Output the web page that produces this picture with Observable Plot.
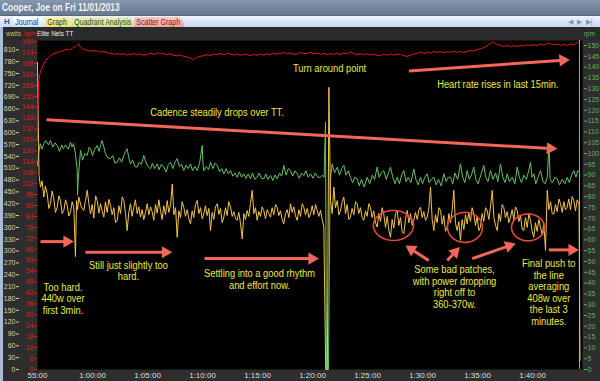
<!DOCTYPE html>
<html><head><meta charset="utf-8">
<script src="https://cdn.jsdelivr.net/npm/d3@7"></script>
<script src="https://cdn.jsdelivr.net/npm/@observablehq/plot@0.6"></script>
<style>
html,body{margin:0;padding:0;background:#2d2d2d;}
#wrap{position:relative;width:600px;height:381px;overflow:hidden;background:#2e2e2e;font-family:"Liberation Sans",Arial,sans-serif;}
#titlebar{position:absolute;left:0;top:0;width:600px;height:15px;background:linear-gradient(#8798ac,#66798f);border-bottom:1px solid #56677a;}
#titlebar span{position:absolute;left:2px;top:1px;font:bold 10.5px "Liberation Sans",Arial;color:#f2f2f2;transform:scaleX(0.8);transform-origin:left;white-space:nowrap;}
#tabbar{position:absolute;left:0;top:16px;width:600px;height:11px;background:linear-gradient(#eef4fd,#c7daf2);}
.tab{position:absolute;top:1px;height:10px;border-radius:2px 7px 0 0;font:9px "Liberation Sans",Arial;line-height:10px;white-space:nowrap;overflow:hidden;}
.tab span{display:inline-block;transform:scaleX(0.78);transform-origin:left;padding-left:3px;}
#hdr{position:absolute;left:0;top:27px;width:600px;height:13px;background:#2b2b2b;}
.lbl{position:absolute;font:8px "Liberation Sans",Arial;white-space:nowrap;line-height:10px;}
.hl{position:absolute;font:7.5px "Liberation Sans",Arial;white-space:nowrap;line-height:10px;transform:scaleX(0.85);transform-origin:left;}
#strip{position:absolute;left:0;top:27px;width:3px;height:354px;background:#a9bcd3;}
</style></head>
<body>
<div id="wrap">
  <div id="titlebar"><span>Cooper, Joe on Fri 11/01/2013</span></div>
  <div id="tabbar">
    <div class="lbl" style="left:4px;top:1px;color:#2a55a5;font-weight:bold;">H</div>
    <div class="tab" style="left:13px;width:32px;background:linear-gradient(#ffffff,#cfe0f6);color:#1d3a78;"><span>Journal</span></div>
    <div class="tab" style="left:45px;width:27px;background:linear-gradient(#fbf3a0,#efe06a);color:#333;"><span>Graph</span></div>
    <div class="tab" style="left:72px;width:62px;background:linear-gradient(#e4f2c6,#c9e29c);color:#2d4a12;"><span>Quadrant Analysis</span></div>
    <div class="tab" style="left:134px;width:50px;background:linear-gradient(#f9c8c8,#f0a4a4);color:#7a1c1c;"><span>Scatter Graph</span></div>
    <div class="lbl" style="left:568px;top:1px;color:#7f96b8;font-size:7px;">◀&nbsp;&nbsp;▶&nbsp;&nbsp;▶|</div>
  </div>
  <div id="hdr">
    <div class="hl" style="left:6px;top:2px;color:#d9b95a;">watts</div>
    <div class="hl" style="left:24px;top:2px;color:#d42020;">bpm</div>
    <div class="hl" style="left:37px;top:2px;color:#eeeeee;">Elite Nels TT</div>
    <div class="hl" style="left:584px;top:2px;color:#5fae5f;">rpm</div>
  </div>
  <div id="strip"></div>
  <div id="plots"></div>
</div>
<script>
// ---------- data ----------
const tickMinutes = [55, 60, 65, 70, 75, 80, 85, 90, 95, 100];
const tickLabels = ["55:00","1:00:00","1:05:00","1:10:00","1:15:00","1:20:00","1:25:00","1:30:00","1:35:00","1:40:00"];
const wattTicks = d3.range(0, 811, 30);
const bpmTicks = d3.range(0, 181, 6);
const rpmTicks = d3.range(0, 151, 5);

// power: [minute, watts]
const powerSeries = [
[55.00,778],[55.14,492],[55.27,462],[55.42,478],[55.57,437],[55.72,465],[55.88,445],[56.03,408],[56.18,421],[56.33,452],[56.48,433],[56.63,398],[56.79,411],[56.94,440],[57.09,428],[57.24,395],[57.39,403],[57.55,430],[57.70,416],[57.85,389],[58.00,399],[58.15,425],[58.30,411],[58.45,286],[58.55,428],[58.65,405],[58.75,437],[58.98,412],[59.21,403],[59.36,428],[59.52,454],[59.67,420],[59.82,394],[59.97,418],[60.12,384],[60.28,440],[60.43,428],[60.58,396],[60.73,420],[60.88,401],[61.03,386],[61.18,425],[61.33,398],[61.49,431],[61.64,416],[61.79,392],[61.94,410],[62.09,372],[62.25,378],[62.40,415],[62.55,395],[62.70,437],[62.85,428],[63.00,395],[63.15,352],[63.30,398],[63.45,420],[63.60,388],[63.75,411],[63.90,430],[64.06,395],[64.21,412],[64.36,386],[64.51,405],[64.66,380],[64.82,398],[64.97,420],[65.12,392],[65.27,412],[65.42,400],[65.57,378],[65.73,418],[65.88,396],[66.03,430],[66.18,403],[66.33,380],[66.48,415],[66.64,392],[66.79,428],[66.94,398],[67.10,418],[67.25,470],[67.40,392],[67.55,410],[67.70,335],[67.85,402],[68.00,385],[68.15,425],[68.30,411],[68.45,388],[68.61,405],[68.76,382],[68.91,369],[69.06,402],[69.21,385],[69.36,418],[69.52,428],[69.67,395],[69.82,410],[69.97,382],[70.12,394],[70.27,415],[70.42,390],[70.58,408],[70.73,352],[70.88,398],[71.03,380],[71.18,412],[71.34,420],[71.49,393],[71.64,408],[71.79,372],[71.94,386],[72.09,410],[72.24,390],[72.39,425],[72.55,411],[72.70,388],[72.85,400],[73.00,383],[73.15,378],[73.30,398],[73.45,372],[73.61,331],[73.76,395],[73.91,380],[74.06,403],[74.21,388],[74.36,420],[74.52,454],[74.67,395],[74.82,410],[74.97,378],[75.12,400],[75.27,388],[75.42,412],[75.57,403],[75.73,382],[75.88,405],[76.03,395],[76.18,386],[76.33,410],[76.48,392],[76.64,418],[76.79,411],[76.94,390],[77.09,402],[77.24,380],[77.39,369],[77.54,395],[77.70,405],[77.85,385],[78.00,420],[78.15,398],[78.30,412],[78.45,390],[78.61,378],[78.76,405],[78.91,388],[79.06,420],[79.21,411],[79.36,392],[79.52,408],[79.67,385],[79.82,394],[79.97,415],[80.12,392],[80.28,418],[80.43,403],[80.58,388],[80.73,403],[80.88,380],[81.03,361],[81.20,0],[81.35,0],[81.49,715],[81.64,428],[81.79,395],[81.94,462],[82.09,410],[82.25,428],[82.40,392],[82.55,403],[82.70,425],[82.85,437],[83.00,395],[83.15,418],[83.30,380],[83.45,386],[83.60,408],[83.76,392],[83.91,425],[84.06,420],[84.21,395],[84.36,410],[84.51,385],[84.66,378],[84.82,402],[84.97,388],[85.12,420],[85.27,411],[85.42,385],[85.57,402],[85.73,372],[85.88,361],[86.03,395],[86.18,375],[86.33,410],[86.48,394],[86.64,360],[86.79,388],[86.94,352],[87.09,335],[87.24,380],[87.39,358],[87.55,395],[87.70,403],[87.85,365],[88.00,385],[88.15,350],[88.30,344],[88.45,380],[88.61,403],[88.76,372],[88.91,395],[89.06,365],[89.21,378],[89.36,398],[89.52,380],[89.67,405],[89.82,411],[89.97,385],[90.12,400],[90.27,378],[90.43,386],[90.58,410],[90.73,462],[90.88,380],[91.03,352],[91.18,392],[91.33,372],[91.49,410],[91.64,403],[91.79,368],[91.94,390],[92.09,350],[92.25,361],[92.40,395],[92.55,372],[92.70,405],[92.85,454],[93.00,370],[93.15,352],[93.30,375],[93.45,327],[93.60,380],[93.76,355],[93.91,392],[94.06,369],[94.21,398],[94.36,375],[94.51,410],[94.66,394],[94.82,365],[94.97,388],[95.12,352],[95.27,361],[95.42,395],[95.57,375],[95.73,410],[95.88,403],[96.03,380],[96.18,412],[96.34,454],[96.49,385],[96.64,365],[96.79,352],[96.94,395],[97.09,375],[97.24,418],[97.39,411],[97.54,385],[97.70,400],[97.85,372],[98.00,386],[98.15,405],[98.30,380],[98.45,412],[98.61,403],[98.76,375],[98.91,390],[99.06,355],[99.21,352],[99.36,385],[99.52,360],[99.67,395],[99.82,378],[99.97,350],[100.12,335],[100.27,372],[100.42,350],[100.58,380],[100.73,361],[100.88,340],[101.03,370],[101.18,302],[101.34,454],[101.49,405],[101.64,425],[101.79,395],[101.94,394],[102.09,418],[102.24,400],[102.40,432],[102.55,420],[102.70,398],[102.85,425],[103.00,405],[103.15,411],[103.30,432],[103.45,405],[103.61,438],[103.76,428],[103.91,402],[104.06,430],[104.23,420],[104.32,23]
];

// heart rate: [minute, bpm]
const hrSeries = [
[55.00,125.7],[55.03,142.2],[55.12,158.7],[55.25,163],[55.43,166.0],[55.73,169.6],[55.95,171],[56.18,172.4],[56.50,173.5],[56.79,174.2],[57.10,174.6],[57.36,175.1],[57.60,175.8],[57.90,175.4],[58.27,176.8],[58.50,177.5],[58.73,178.8],[58.90,177],[59.18,175.7],[59.50,175.3],[59.85,174.6],[60.10,175.2],[60.43,174.7],[60.75,174.2],[61.05,174.6],[61.35,173.8],[61.64,173.6],[61.95,173.1],[62.25,173.5],[62.55,172.9],[62.85,173.4],[63.15,172.6],[63.45,172.9],[63.75,173.4],[64.05,172.7],[64.35,173.2],[64.65,172.5],[64.97,172.9],[65.30,173.6],[65.60,173.0],[65.90,173.8],[66.15,173.2],[66.45,173.5],[66.75,172.8],[67.05,173.3],[67.40,172.4],[67.70,172.2],[68.00,172.7],[68.30,171.9],[68.61,171.5],[68.90,171.0],[69.18,170.0],[69.45,171.2],[69.75,171.9],[70.09,172.2],[70.40,172.8],[70.70,172.4],[71.00,173.1],[71.34,172.9],[71.65,173.5],[71.95,172.8],[72.25,173.6],[72.55,173.3],[72.85,172.6],[73.15,173.2],[73.45,172.5],[73.75,173.1],[74.06,172.9],[74.35,172.3],[74.65,173.0],[74.95,172.4],[75.25,173.2],[75.55,172.6],[75.85,173.4],[76.15,172.8],[76.45,173.6],[76.75,173.1],[77.09,173.6],[77.40,174.0],[77.70,173.2],[78.00,173.8],[78.30,173.0],[78.61,173.3],[78.90,174.0],[79.20,173.4],[79.52,173.6],[79.85,174.1],[80.15,173.3],[80.43,173.6],[80.75,173.0],[81.05,173.5],[81.30,172.8],[81.60,173.4],[81.91,172.9],[82.20,173.6],[82.50,172.9],[82.80,173.8],[83.10,173.3],[83.45,174.2],[83.75,173.5],[84.05,172.7],[84.35,173.4],[84.65,172.8],[84.97,173.3],[85.30,172.6],[85.60,173.1],[85.90,172.4],[86.18,172.2],[86.50,173.0],[86.80,172.5],[87.10,173.2],[87.40,172.6],[87.70,173.1],[88.00,172.9],[88.30,172.3],[88.61,171.8],[88.90,172.6],[89.20,173.1],[89.52,173.6],[89.85,174.2],[90.15,173.5],[90.45,174.1],[90.75,173.8],[91.00,174.7],[91.30,174.0],[91.60,174.6],[91.95,173.9],[92.25,174.4],[92.55,174.2],[92.85,174.8],[93.15,174.1],[93.45,174.6],[93.75,174.0],[94.06,174.7],[94.35,175.2],[94.65,174.8],[94.95,175.6],[95.27,176.1],[95.55,176.6],[95.85,177.8],[96.15,178.9],[96.45,179.7],[96.75,178.6],[97.09,177.9],[97.40,177.3],[97.70,177.9],[98.00,177.2],[98.30,177.8],[98.61,177.3],[98.95,178.0],[99.25,177.6],[99.55,178.3],[99.85,177.8],[100.09,178.4],[100.40,177.9],[100.70,178.6],[101.00,178.1],[101.35,178.9],[101.64,178.8],[101.95,178.2],[102.25,178.7],[102.55,178.0],[102.85,178.5],[103.15,177.9],[103.45,178.6],[103.75,178.2],[104.00,179.2],[104.18,179.7]
];

// cadence: [minute, rpm]
const cadSeries = [
[55.00,94.5],[55.10,100],[55.25,104.5],[55.40,102],[55.57,104.5],[55.75,106],[56.00,104],[56.18,106.0],[56.40,103],[56.60,105],[56.79,103.7],[57.00,101],[57.20,104],[57.36,102.3],[57.55,104],[57.80,102],[58.00,105.2],[58.15,103],[58.27,104.6],[58.45,100],[58.61,92.1],[58.64,80.6],[58.70,88],[58.91,101.4],[59.10,97],[59.30,100],[59.52,99.1],[59.70,103],[59.82,102.2],[60.00,99],[60.20,102],[60.43,103.7],[60.60,101],[60.75,104],[60.88,106.0],[61.03,103],[61.18,99.9],[61.40,98],[61.64,97.6],[61.85,99],[62.05,95.5],[62.25,96.0],[62.45,98],[62.65,96],[62.85,99.1],[63.00,101],[63.15,102.2],[63.30,98],[63.45,95.2],[63.65,97],[63.85,94],[64.06,93.7],[64.25,96],[64.45,95],[64.66,99.1],[64.85,96],[65.05,94],[65.27,92.9],[65.45,95.5],[65.65,93],[65.88,95.2],[66.05,92.5],[66.25,95],[66.48,93.7],[66.70,91.5],[66.90,95],[67.09,96.0],[67.30,93],[67.50,96],[67.70,97.6],[67.90,94],[68.10,95],[68.30,92.1],[68.50,94.5],[68.70,93],[68.91,95.2],[69.10,92],[69.30,94],[69.52,92.1],[69.75,96],[69.97,103.7],[70.05,95],[70.12,92.1],[70.35,94],[70.55,92.5],[70.73,96.0],[70.95,93],[71.15,95.5],[71.34,94.5],[71.55,91.5],[71.75,93],[71.94,90.6],[72.15,93],[72.35,90.5],[72.55,92.1],[72.75,89.5],[72.95,91],[73.15,89.0],[73.35,91.5],[73.55,89],[73.75,90.6],[73.95,88.5],[74.15,90.5],[74.36,88.3],[74.55,91],[74.75,88],[74.97,89.0],[75.15,91],[75.35,88.5],[75.57,88.3],[75.75,90.5],[75.95,88],[76.18,89.8],[76.40,87.5],[76.60,90],[76.79,88.3],[77.00,91],[77.20,89.5],[77.39,94.5],[77.60,90],[77.80,93],[78.00,92.1],[78.20,89.5],[78.40,92],[78.61,90.6],[78.80,88.5],[79.00,91],[79.21,89.8],[79.40,92],[79.60,89],[79.82,90.6],[80.05,88.5],[80.25,91],[80.50,89],[80.73,89.0],[80.90,90],[81.05,89.0],[81.18,114.5],[81.27,0],[81.45,0],[81.60,87.0],[81.79,95.2],[82.00,91],[82.25,93.7],[82.45,90],[82.65,93],[82.85,94.5],[83.05,90],[83.25,92],[83.45,89.0],[83.65,86.5],[83.85,89],[84.06,88.3],[84.25,85],[84.45,88],[84.70,84.5],[84.97,89.0],[85.20,86],[85.45,90],[85.65,88],[85.88,93.7],[86.05,89],[86.25,91],[86.48,92.1],[86.70,88],[86.90,91],[87.09,93.7],[87.30,89],[87.50,86],[87.70,89.0],[87.90,86],[88.10,90],[88.30,92.1],[88.50,87],[88.70,89],[88.95,86.5],[89.21,92.9],[89.40,88],[89.60,85.5],[89.82,89.0],[90.00,86],[90.20,89],[90.43,90.6],[90.60,86.5],[90.80,88],[91.03,89.0],[91.25,85.5],[91.45,88],[91.70,85],[91.94,90.6],[92.15,87],[92.35,89],[92.55,89.0],[92.75,86],[92.95,91],[93.20,88],[93.45,95.2],[93.65,89],[93.85,86.5],[94.06,92.1],[94.25,88],[94.45,90],[94.66,93.7],[94.85,88],[95.05,86],[95.30,90],[95.57,94.5],[95.75,89],[95.95,87],[96.18,92.1],[96.40,88],[96.65,91],[96.85,87],[97.09,95.2],[97.30,89],[97.50,86.5],[97.70,90.6],[97.90,87],[98.15,89],[98.40,86],[98.61,93.7],[98.80,89],[99.00,86.5],[99.20,90],[99.45,88],[99.65,92],[99.82,96.0],[99.95,89],[100.12,90.6],[100.30,86],[100.50,89],[100.73,92.1],[100.95,87],[101.15,86],[101.34,89.0],[101.50,104],[101.60,88],[101.80,86.5],[102.05,89],[102.25,88.3],[102.45,85.5],[102.70,88],[102.95,86],[103.15,89.0],[103.35,86.5],[103.55,90],[103.76,92.1],[103.95,89],[104.10,92],[104.21,91.4]
];

const endMarker = [104.27];

// annotations (positions in minutes / watts)
const noteText = ["Turn around point","Cadence steadily drops over TT.","Heart rate rises in last 15min.","Too hard.\n440w over\nfirst 3min.","Still just slightly too\nhard.","Settling into a good rhythm\nand effort now.","Some bad patches,\nwith power dropping\nright off to\n360-370w.","Final push to\nthe line\naveraging\n408w over\nthe last 3\nminutes."];
const noteT = [81.55, 71.32, 96.85, 57.32, 63.27, 75.18, 92.91, 101.48];
const noteW = [763, 652, 722, 180, 250, 229, 210, 196];

const arrowT1 = [55.82, 88.76, 55.27, 59.36, 70.18, 90.57, 92.25, 94.52, 101.48];
const arrowW1 = [633, 756, 324, 297, 281, 276, 276, 281, 303];
const arrowT2 = [102.25, 103.39, 58.30, 67.25, 80.57, 88.46, 93.39, 98.46, 104.21];
const arrowW2 = [559, 785, 324, 297, 281, 314, 310, 319, 303];

const patchT = [87.36, 93.86, 99.59];
const patchW = [365, 360, 360];
const patchRt = [1.82, 1.59, 1.50];
const patchRw = [38, 38, 34];

// ---------- build ----------
const FONT = '"Liberation Sans", Arial, sans-serif';
const W = 600, H = 341, MB = 12;
const tEnd = 55 + 545 / 11;
const X = {domain: [55, tEnd], range: [37, 582]};
const yW = {domain: [0, 810], range: [329, 9.3]};
const common = {width: W, height: H, marginTop: 0, marginBottom: MB};
const st = (fs) => ({background: "transparent", overflow: "visible", fontFamily: FONT, fontSize: fs + "px"});

const toRows = s => s.map(([t, v]) => ({t, v}));
const power = toRows(powerSeries), hr = toRows(hrSeries), cad = toRows(cadSeries);
const notes = noteText.map((s, i) => ({s, t: noteT[i], w: noteW[i]}));

const kx = (X.range[1] - X.range[0]) / (X.domain[1] - X.domain[0]);
const ky = (yW.range[0] - yW.range[1]) / (yW.domain[1] - yW.domain[0]);
const back = 6.9;
const arrows = arrowT1.map((t1, i) => {
  const t2 = arrowT2[i], w1 = arrowW1[i], w2 = arrowW2[i];
  const dxp = (t2 - t1) * kx, dyp = -(w2 - w1) * ky;
  const L = Math.hypot(dxp, dyp), ux = dxp / L, uy = dyp / L;
  return {t1, w1, ct: t2 - back * ux / kx, cw: w2 + back * uy / ky,
          rot: Math.atan2(dyp, dxp) * 180 / Math.PI + 90};
});
const ellipse = [];
patchT.forEach((ct, i) => {
  d3.range(0, 49).forEach(k => {
    const a = k / 48 * 2 * Math.PI;
    ellipse.push({id: i, t: ct + patchRt[i] * Math.cos(a), w: patchW[i] + patchRw[i] * Math.sin(a)});
  });
});

const base = Plot.plot({...common, marginLeft: 37, marginRight: 18, style: st(8),
  x: {...X}, y: {...yW, axis: null},
  marks: [
    Plot.frame({fill: "#000", stroke: "none"}),
    Plot.axisX(tickMinutes, {anchor: "bottom", tickSize: 0, tickPadding: 3, fill: "#dedede",
      tickFormat: d => tickLabels[tickMinutes.indexOf(d)], label: null}),
    Plot.ruleX(endMarker, {stroke: "#a5a5a5", strokeWidth: 1})
  ]});

const cadPlot = Plot.plot({...common, marginLeft: 37, marginRight: 17, style: st(7),
  x: {...X, axis: null}, y: {domain: [0, 150], range: [329, 5]},
  marks: [
    Plot.axisY(rpmTicks, {anchor: "right", tickSize: 3, tickPadding: 1, stroke: "#5fae5f", fill: "#5fae5f", label: null}),
    Plot.line(cad, {x: "t", y: "v", stroke: "#62c462", strokeWidth: 1})
  ]});

const powPlot = Plot.plot({...common, marginLeft: 19, marginRight: 18, style: st(7),
  x: {...X, axis: null}, y: {...yW},
  marks: [
    Plot.axisY(wattTicks, {anchor: "left", tickSize: 3, tickPadding: 1, stroke: "#dcd2a0", fill: "#dcd2a0", label: null}),
    Plot.line(power, {x: "t", y: "v", stroke: "#f5c543", strokeWidth: 1})
  ]});

const hrPlot = Plot.plot({...common, marginLeft: 37, marginRight: 18, style: st(7),
  x: {...X, axis: null}, y: {domain: [0, 180], range: [329, 1.1]},
  marks: [
    Plot.axisY(bpmTicks, {anchor: "left", tickSize: 3, tickPadding: 1, stroke: "#d42020", fill: "#d42020", label: null}),
    Plot.line(hr, {x: "t", y: "v", stroke: "#e8141a", strokeWidth: 1})
  ]});

const annPlot = Plot.plot({...common, marginLeft: 37, marginRight: 18, style: st(11),
  x: {...X, axis: null}, y: {...yW, axis: null},
  marks: [
    Plot.line(ellipse, {x: "t", y: "w", z: "id", stroke: "#e5473d", strokeWidth: 1.6}),
    Plot.link(arrows, {x1: "t1", y1: "w1", x2: "ct", y2: "cw", stroke: "#f4665a", strokeWidth: 3}),
    Plot.dot(arrows, {x: "ct", y: "cw", symbol: "triangle", r: 4.5, fill: "#f4665a", stroke: "none", rotate: "rot"}),
    Plot.text(notes, {x: "t", y: "w", text: "s", fill: "#eeea3c", fontSize: 11, lineHeight: 1.05,
      textAnchor: "middle", lineAnchor: "middle", fontFamily: FONT})
  ]});

const host = document.getElementById("plots");
[base, cadPlot, powPlot, hrPlot, annPlot].forEach(p => {
  p.style.position = "absolute";
  p.style.left = "0px";
  p.style.top = "40px";
  host.appendChild(p);
});
// condense annotation text horizontally like the screenshot
d3.select(annPlot).selectAll('g[aria-label="text"] text').each(function () {
  const tr = this.getAttribute("transform") || "";
  this.setAttribute("transform", tr + " scale(0.85,1)");
});
</script>
</body></html>
